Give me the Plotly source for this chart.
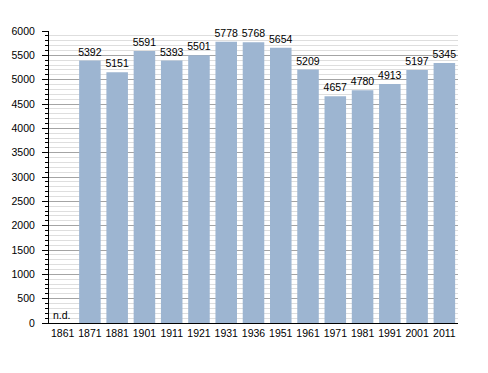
import plotly.graph_objects as go

years = ["1861", "1871", "1881", "1901", "1911", "1921", "1931", "1936",
         "1951", "1961", "1971", "1981", "1991", "2001", "2011"]
population = [None, 5392, 5151, 5591, 5393, 5501, 5778, 5768,
              5654, 5209, 4657, 4780, 4913, 5197, 5345]
labels = ["" if v is None else str(v) for v in population]
y_ticks = [0, 500, 1000, 1500, 2000, 2500, 3000, 3500, 4000, 4500, 5000, 5500, 6000]

FONT = "Liberation Sans, Arial, sans-serif"

fig = go.Figure()
fig.add_trace(go.Bar(
    x=years, y=population, text=labels, textposition="outside",
    textfont=dict(size=10.5, color="#000000", family=FONT),
    constraintext="none",
    marker=dict(color="#9db5d1", line=dict(width=0)),
    width=0.79, cliponaxis=False,
))
fig.add_annotation(x=-0.5, y=0, xref="x", yref="y", text="n.d.", showarrow=False,
                   xanchor="left", yanchor="bottom", xshift=2, yshift=0,
                   font=dict(size=10.5, color="#000000", family=FONT))

fig.update_layout(
    width=480, height=365,
    margin=dict(l=41, r=30, t=23, b=50),
    paper_bgcolor="white", plot_bgcolor="white",
    showlegend=False,
    font=dict(family=FONT, size=10.5, color="#000000"),
    xaxis=dict(type="category", showgrid=False, showline=True, linecolor="#000000",
               linewidth=1, ticks="", tickfont=dict(size=10.5), tickangle=0,
               automargin=False, range=[-0.5, 14.5]),
    yaxis=dict(range=[0, 6000], tickvals=y_ticks, showline=True, linecolor="#000000",
               linewidth=1, ticks="outside", ticklen=6, tickcolor="#000000",
               ticklabelstandoff=5, automargin=False,
               gridcolor="#a4a4a4", gridwidth=1, zeroline=False,
               tickfont=dict(size=10.5),
               minor=dict(dtick=100, showgrid=True, gridcolor="#dedede", gridwidth=1,
                          ticks="outside", ticklen=3, tickcolor="#000000")),
)
fig.write_html("out.html")
